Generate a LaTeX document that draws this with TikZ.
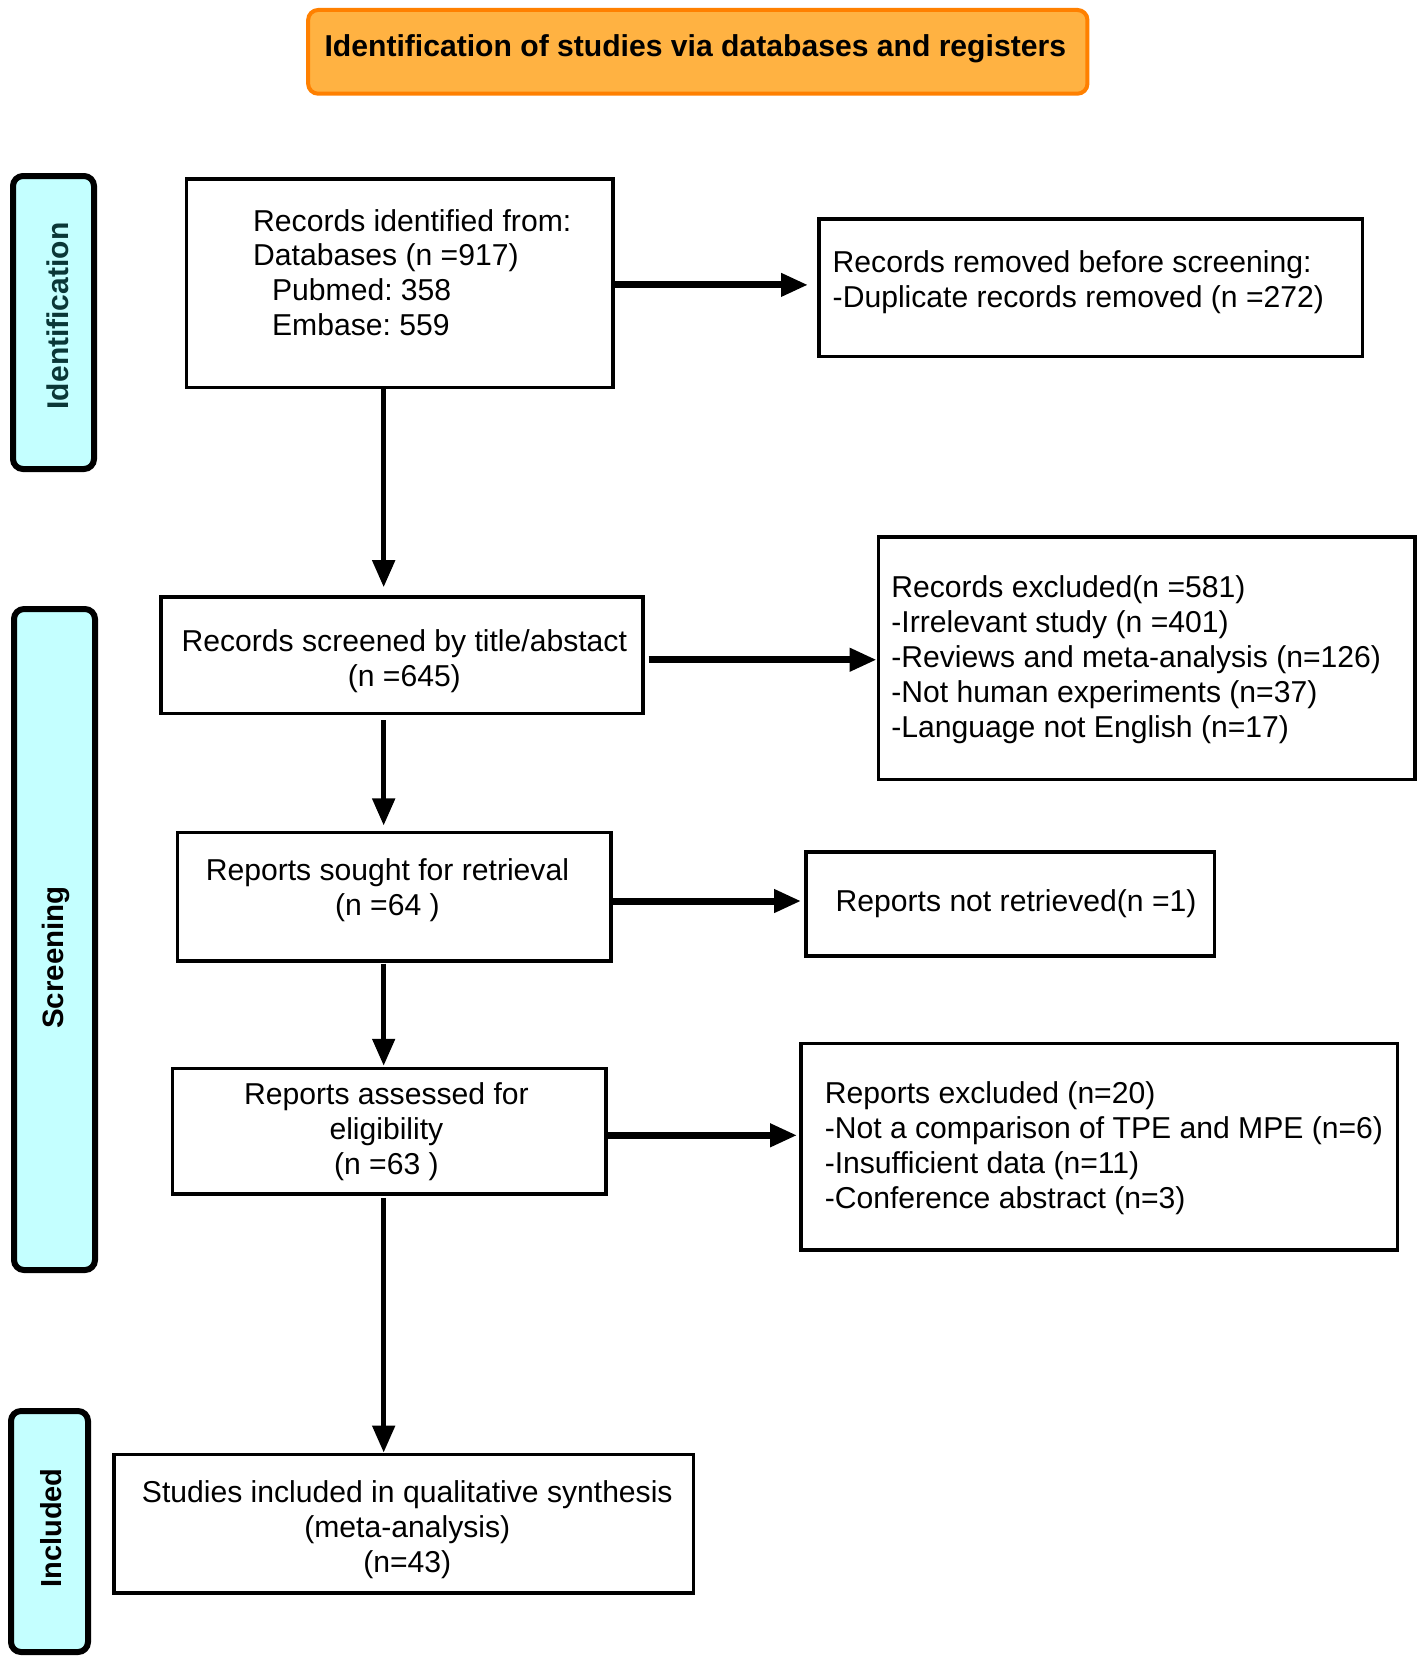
\documentclass[tikz,border=0pt]{standalone}
\usepackage{fontspec}
\setmainfont{Liberation Sans}
\usetikzlibrary{arrows.meta}
\frenchspacing
\definecolor{titlefill}{RGB}{255,178,66}
\definecolor{titledraw}{RGB}{255,128,0}
\definecolor{sidefill}{RGB}{196,255,255}
\definecolor{sideteal}{RGB}{10,55,55}
\newcommand{\padl}[3]{\makebox[#1pt][l]{\hspace*{#2pt}\begin{tabular}{@{}l@{}}#3\end{tabular}}}
\newcommand{\ctext}[2]{\hspace*{#1pt}\begin{tabular}{@{}c@{}}#2\end{tabular}}
\newcommand{\shup}[2]{\raisebox{#1pt}[\height][\depth]{#2}}
\tikzset{
  flowbox/.style={draw, line width=3.5pt, inner sep=0pt, anchor=north west,
    font=\fontsize{30.3}{35}\selectfont},
  titlebox/.style={draw=titledraw, fill=titlefill, line width=4pt, rounded corners=10pt,
    inner sep=0pt, anchor=north west, font=\fontsize{30.3}{35}\selectfont\bfseries},
  sidebox/.style={draw, fill=sidefill, line width=6pt, rounded corners=10pt,
    inner sep=0pt, rotate=90},
  harr/.style={line width=7pt, -{Triangle[length=27pt,width=22pt]}},
  varr/.style={line width=5pt, -{Triangle[length=27pt,width=22pt]}},
}
\begin{document}
\begin{tikzpicture}[x=1pt,y=-1pt]
\useasboundingbox (0,0) rectangle (1422,1663);

% side labels
\node[sidebox, minimum width=293pt, minimum height=81pt,
  font=\fontsize{30}{35}\selectfont\bfseries, text=sideteal] (sideid) at (53.5,322.5)
  {\shup{-4.5}{\hspace*{13pt}Identification}};
\node[sidebox, minimum width=661pt, minimum height=81pt,
  font=\fontsize{29.5}{35}\selectfont\bfseries] (sidescr) at (54.5,939.5)
  {\shup{-1}{\hspace*{-36pt}Screening}};
\node[sidebox, minimum width=241pt, minimum height=77pt,
  font=\fontsize{29}{35}\selectfont\bfseries] (sideinc) at (49.5,1531.5)
  {\shup{-1.5}{\hspace*{7pt}Included}};

\begin{scope}[xscale=0.994, yscale=0.997, transform shape]
% title
\node[titlebox, minimum width=784pt, minimum height=84pt] (title) at (308,8)
  {\shup{2}{\ctext{-5}{Identification of studies via databases and registers}}};

% main column
\node[flowbox, minimum width=429pt, minimum height=209pt] (ident) at (186,178)
  {\shup{7}{\padl{429}{67}{Records identified from:\\Databases (n =917)\\\hspace*{19pt}Pubmed: 358\\\hspace*{19pt}Embase: 559}}};
\node[flowbox, minimum width=485pt, minimum height=117pt] (screened) at (160,597)
  {\shup{-6.5}{\ctext{5}{Records screened by title/abstact\\(n =645)}}};
\node[flowbox, minimum width=436pt, minimum height=129pt] (sought) at (177,833)
  {\shup{5.5}{\ctext{-14}{Reports sought for retrieval\\(n =64 )}}};
\node[flowbox, minimum width=436pt, minimum height=126pt] (assessed) at (172,1070)
  {\shup{-1}{\ctext{-6}{Reports assessed for\\eligibility\\(n =63 )}}};
\node[flowbox, minimum width=583pt, minimum height=139pt] (included) at (113,1457)
  {\shup{-6.5}{\ctext{7}{Studies included in qualitative synthesis\\(meta-analysis)\\(n=43)}}};

% right column
\node[flowbox, minimum width=547pt, minimum height=138pt] (removed) at (822,218)
  {\shup{4.5}{\padl{547}{14}{Records removed before screening:\\-Duplicate records removed (n =272)}}};
\node[flowbox, minimum width=540pt, minimum height=243pt] (excluded) at (882,537)
  {\shup{-2}{\padl{540}{13}{Records excluded(n =581)\\-Irrelevant study (n =401)\\-Reviews and meta-analysis (n=126)\\-Not human experiments (n=37)\\-Language not English (n=17)}}};
\node[flowbox, minimum width=411pt, minimum height=104pt] (notretr) at (809,853)
  {\padl{411}{30}{Reports not retrieved(n =1)}};
\node[flowbox, minimum width=600pt, minimum height=207pt] (repexcl) at (804,1045)
  {\shup{-2.5}{\padl{600}{24}{Reports excluded (n=20)\\-Not a comparison of TPE and MPE (n=6)\\-Insufficient data (n=11)\\-Conference abstract (n=3)}}};

% vertical spine
\coordinate (spine) at (386,0);
\draw[varr, shorten >=8pt] (spine |- ident.south) -- (spine |- screened.north);
\draw[varr, shorten <=5pt, shorten >=5pt] (spine |- screened.south) -- (spine |- sought.north);
\draw[varr, shorten <=1pt, shorten >=1pt] (spine |- sought.south) -- (spine |- assessed.north);
\draw[varr, shorten <=2pt] (spine |- assessed.south) -- (spine |- included.north);

% horizontal arrows
\draw[harr, shorten >=9pt] ([yshift=-1.5pt]ident.east) -- ([yshift=-1.5pt]ident.east -| removed.west);
\draw[harr, shorten <=4pt] ([yshift=-4.5pt]screened.east) -- ([yshift=-4.5pt]screened.east -| excluded.west);
\draw[harr, shorten >=3pt] ([yshift=-4.5pt]sought.east) -- ([yshift=-4.5pt]sought.east -| notretr.west);
\draw[harr, shorten >=2pt] ([yshift=-4pt]assessed.east) -- ([yshift=-4pt]assessed.east -| repexcl.west);
\end{scope}
\end{tikzpicture}
\end{document}
